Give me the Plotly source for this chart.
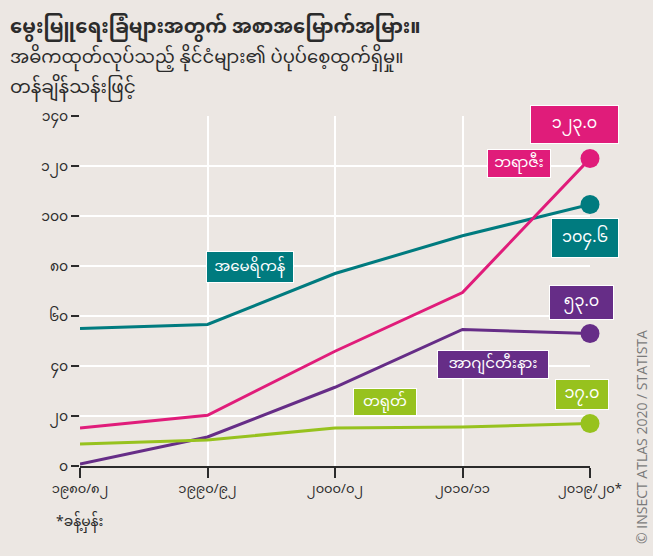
import plotly.graph_objects as go

# ---------------- data ----------------
periods = ["၁၉၈၀/၈၂", "၁၉၉၀/၉၂", "၂၀၀၀/၀၂", "၂၀၁၀/၁၁", "၂၀၁၉/၂၀*"]
usa = [55.0, 56.6, 77.0, 92.1, 104.6]
brazil = [15.2, 20.3, 45.9, 69.4, 123.0]
argentina = [0.8, 11.6, 31.5, 54.6, 53.0]
china = [8.8, 10.4, 15.2, 15.6, 17.0]

y_ticks = [0, 20, 40, 60, 80, 100, 120, 140]
y_tick_text = ["၀", "၂၀", "၄၀", "၆၀", "၈၀", "၁၀၀", "၁၂၀", "၁၄၀"]

names = {"usa": "အမေရိကန်", "brazil": "ဘရာဇီး", "argentina": "အာဂျင်တီးနား", "china": "တရုတ်"}
end_labels = {"usa": "၁၀၄.၆", "brazil": "၁၂၃.၀", "argentina": "၅၃.၀", "china": "၁၇.၀"}

title1 = "မွေးမြူရေးခြံများအတွက် အစာအမြောက်အမြား။"
title2 = "အဓိကထုတ်လုပ်သည့် နိုင်ငံများ၏ ပဲပုပ်စေ့ထွက်ရှိမှု။"
title3 = "တန်ချိန်သန်းဖြင့်"
footnote = "*ခန့်မှန်း"
credit = "© INSECT ATLAS 2020 / STATISTA"

# ---------------- style ----------------
BG = "#ECE7E3"
TEAL = "#007B7F"
PINK = "#E01C7A"
PURPLE = "#662D87"
GREEN = "#97C21E"
DARK = "#2B2B2B"
FONT = "Noto Sans Myanmar, Padauk, Myanmar Text, Noto Sans, sans-serif"

xs = list(range(len(periods)))

fig = go.Figure()
series = [("usa", usa, TEAL), ("brazil", brazil, PINK),
          ("argentina", argentina, PURPLE), ("china", china, GREEN)]
for key, vals, col in series:
    fig.add_trace(go.Scatter(
        x=xs, y=vals, mode="lines", line=dict(color=col, width=3),
        cliponaxis=False, showlegend=False, hoverinfo="skip"))
    fig.add_trace(go.Scatter(
        x=[xs[-1]], y=[vals[-1]], mode="markers",
        marker=dict(color=col, size=19), cliponaxis=False,
        showlegend=False, hoverinfo="skip"))

def box(x, y, text, col, w, h, size=15):
    fig.add_annotation(x=x, y=y, xref="x", yref="y", text=text, showarrow=False,
                       font=dict(color="white", size=size, family=FONT),
                       bgcolor=col, bordercolor="white", borderwidth=1,
                       borderpad=0, width=w, height=h, align="center",
                       valign="middle")

# label positions (data coordinates)
box(1.33, 79.6, names["usa"], TEAL, 86, 30)
box(3.443, 121.2, names["brazil"], PINK, 62, 27)
box(3.882, 136.8, end_labels["brazil"], PINK, 87, 37, 16)
box(3.961, 91.2, end_labels["usa"], TEAL, 66, 38, 16)
box(3.937, 65.6, end_labels["argentina"], PURPLE, 63, 33, 16)
box(3.239, 40.8, names["argentina"], PURPLE, 110, 27)
box(3.937, 28.8, end_labels["china"], GREEN, 52, 29, 16)
box(2.392, 25.6, names["china"], GREEN, 62, 26)

# titles
def px_x(px):
    return (px - 80) / 510.0

def px_y(py):
    return (466 - py) / 350.0

fig.add_annotation(text="<b>" + title1 + "</b>", xref="paper", yref="paper",
                   x=px_x(8), y=px_y(29), xanchor="left", yanchor="middle",
                   showarrow=False, font=dict(size=19.5, color=DARK, family=FONT))
fig.add_annotation(text=title2, xref="paper", yref="paper",
                   x=px_x(8), y=px_y(58), xanchor="left", yanchor="middle",
                   showarrow=False, font=dict(size=18, color=DARK, family=FONT))
fig.add_annotation(text=title3, xref="paper", yref="paper",
                   x=px_x(8), y=px_y(89), xanchor="left", yanchor="middle",
                   showarrow=False, font=dict(size=18.5, color=DARK, family=FONT))
fig.add_annotation(text=footnote, xref="paper", yref="paper",
                   x=px_x(54), y=px_y(522), xanchor="left", yanchor="middle",
                   showarrow=False, font=dict(size=14, color=DARK, family=FONT))
fig.add_annotation(text=credit, xref="paper", yref="paper",
                   x=px_x(641), y=px_y(546), xanchor="center", yanchor="bottom",
                   textangle=-90, showarrow=False,
                   font=dict(size=14, color="#7A7A7A", family="Open Sans, sans-serif"))

fig.update_layout(
    width=653, height=556,
    margin=dict(l=80, r=63, t=116, b=90),
    paper_bgcolor=BG, plot_bgcolor=BG,
    font=dict(family=FONT, color=DARK),
    xaxis=dict(range=[0, 4], tickvals=xs, ticktext=periods,
               showgrid=True, gridcolor="white", gridwidth=1.5,
               showline=True, linecolor=DARK, linewidth=1.5,
               ticks="outside", ticklen=10, tickwidth=1.5, tickcolor=DARK,
               tickfont=dict(size=13, color=DARK), zeroline=False, fixedrange=True),
    yaxis=dict(range=[0, 140], tickvals=y_ticks, ticktext=y_tick_text,
               showgrid=True, gridcolor="white", gridwidth=1.5,
               showline=False, ticks="outside", ticklen=8, tickwidth=1.5,
               tickcolor=DARK, tickfont=dict(size=14, color=DARK),
               zeroline=False, fixedrange=True),
)

fig.write_html("out.html",
               config={"displayModeBar": False},
               post_script="document.body.style.margin='0';"
                           "document.body.style.background='#ECE7E3';")
